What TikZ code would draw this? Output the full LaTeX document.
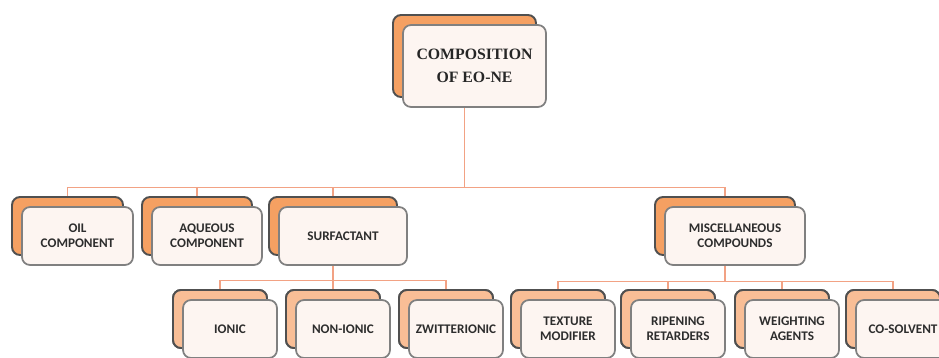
\documentclass[tikz,border=0pt]{standalone}
\usepackage{fontspec}
\setmainfont{Carlito}
\newfontfamily\rootfont{Liberation Serif}
\usepackage{tikz}
\usetikzlibrary{shadows}
\definecolor{boxorange}{RGB}{245,160,98}
\definecolor{boxpeach}{RGB}{249,190,150}
\definecolor{boxfill}{RGB}{253,245,241}
\definecolor{boxedge}{RGB}{128,128,128}
\definecolor{backedge}{RGB}{80,80,80}
\definecolor{linkcolor}{RGB}{242,162,132}
\definecolor{labeltext}{RGB}{45,45,45}
\newlength{\off}
\setlength{\off}{0.2cm}

\begin{document}
\begin{tikzpicture}[x=0.02cm, y=-0.02cm,
    comp node/.style={rectangle, rounded corners=0.16cm, draw=boxedge, line width=1pt,
        fill=boxfill, align=center, text=labeltext, inner sep=1pt,
        font=\fontsize{7.5}{8.5}\selectfont\bfseries,
        minimum height=1.16cm,
        copy shadow={shadow xshift=-\off, shadow yshift=\off, fill=boxorange,
            draw=backedge, line width=1.1pt, opacity=1}},
    sub node/.style={comp node, minimum width=1.88cm,
        copy shadow={shadow xshift=-\off, shadow yshift=\off, fill=boxpeach,
            draw=backedge, line width=1.1pt, opacity=1}},
    link/.style={draw=linkcolor, line width=0.6pt}]
    \useasboundingbox (0,0) rectangle (939,358);

    \node[comp node, minimum width=2.86cm, minimum height=1.64cm,
        font=\rootfont\fontsize{9}{13}\selectfont\bfseries, text=black!85]
        (root) at (474.5,66) {COMPOSITION\\OF EO-NE};

    \node[comp node, minimum width=2.22cm] (oil) at (77.5,236) {OIL\\COMPONENT};
    \node[comp node, minimum width=2.2cm] (aqueous) at (207,236) {AQUEOUS\\COMPONENT};
    \node[comp node, minimum width=2.56cm] (surfactant) at (343,236) {SURFACTANT};
    \node[comp node, minimum width=2.8cm] (misc) at (735,236) {MISCELLANEOUS\\COMPOUNDS};

    \node[sub node] (ionic) at (230,329) {IONIC};
    \node[sub node] (nonionic) at (343,329) {NON-IONIC};
    \node[sub node] (zwitter) at (456,329) {ZWITTERIONIC};
    \node[sub node] (texture) at (568,329) {TEXTURE\\MODIFIER};
    \node[sub node] (ripening) at (678,329) {RIPENING\\RETARDERS};
    \node[sub node] (weighting) at (792,329) {WEIGHTING\\AGENTS};
    \node[sub node] (cosolvent) at (903,329) {CO-SOLVENT};

    % tree lines
    \draw[link] ([xshift=-\off]root.south) -- ++(0,80) coordinate (bus1);
    \foreach \n in {oil,aqueous,surfactant,misc}
        \draw[link] (bus1) -| ([xshift=-\off,yshift=\off]\n.north);

    \draw[link] ([xshift=-\off]surfactant.south) -- ++(0,15) coordinate (bus2);
    \foreach \n in {ionic,nonionic,zwitter}
        \draw[link] (bus2) -| ([xshift=-\off,yshift=\off]\n.north);

    \draw[link] ([xshift=-\off]misc.south) -- ++(0,16) coordinate (bus3);
    \foreach \n in {texture,ripening,weighting,cosolvent}
        \draw[link] (bus3) -| ([xshift=-\off,yshift=\off]\n.north);
\end{tikzpicture}
\end{document}
